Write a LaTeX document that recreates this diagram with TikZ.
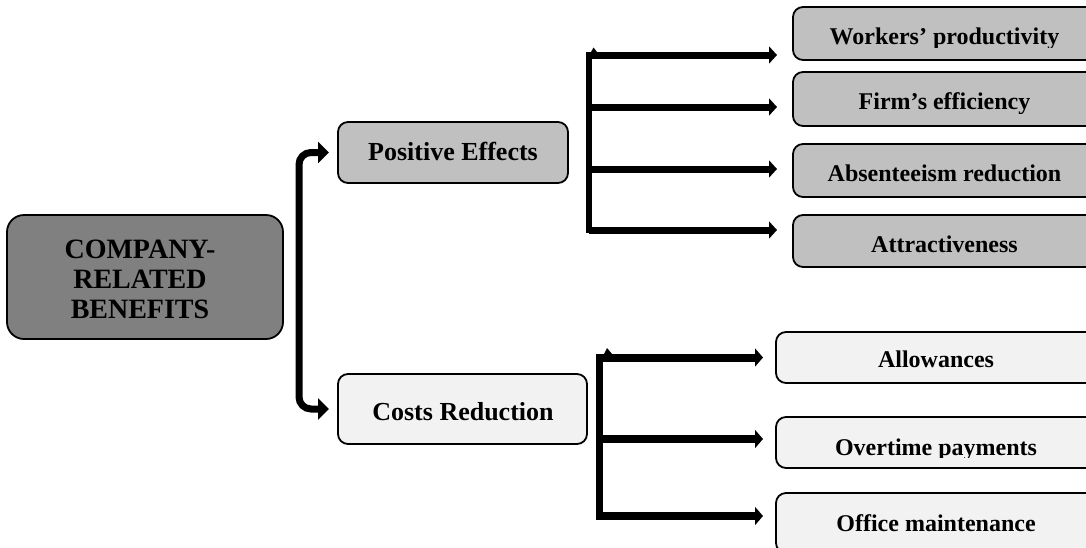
\documentclass[tikz,border=0pt]{standalone}
\usepackage{fontspec}
\setmainfont{Liberation Serif}
\usetikzlibrary{arrows.meta}
\definecolor{darkbox}{RGB}{128,128,128}
\definecolor{midbox}{RGB}{192,192,192}
\definecolor{lightbox}{RGB}{242,242,242}
\begin{document}
\begin{tikzpicture}[x=1pt,y=-1pt,
  box/.style={draw=black, line width=1.8pt, rounded corners=10pt, inner sep=0pt, outer sep=0pt},
  mainbox/.style={box, fill=darkbox, rounded corners=17pt},
  posbox/.style={box, fill=midbox},
  costbox/.style={box, fill=lightbox},
  maintext/.style={inner sep=0pt, align=center, font=\bfseries\fontsize{28}{30}\selectfont},
  midtext/.style={inner sep=0pt, anchor=base, font=\bfseries\fontsize{26}{28}\selectfont},
  itemtext/.style={inner sep=0pt, anchor=base, font=\bfseries\fontsize{24}{26}\selectfont},
  bigarrow/.style={line width=7pt, rounded corners=12pt, -{Triangle[width=21pt,length=11pt]}},
  uparrow/.style={line width=7pt, -{Triangle[width=17pt,length=8pt]}},
  lowarrow/.style={line width=8pt, -{Triangle[width=18pt,length=8pt]}},
  trunk/.style={line cap=rect}
]
\useasboundingbox (0,0) rectangle (1086,547);
\clip (0,0) rectangle (1086,547);

% boxes
\node[mainbox, minimum width=276pt, minimum height=124pt] (main) at (145,277) {};
\node[posbox, minimum width=230pt, minimum height=61pt] (pe) at (453,152.5) {};
\node[costbox, minimum width=249pt, minimum height=70pt] (cr) at (462.5,409) {};

\node[posbox, minimum width=303pt, minimum height=53pt] (w) at (944.5,33.5) {};
\node[posbox, minimum width=303pt, minimum height=54pt] (f) at (944.5,99) {};
\node[posbox, minimum width=303pt, minimum height=53pt] (ab) at (944.5,170.5) {};
\node[posbox, minimum width=303pt, minimum height=52pt] (at) at (944.5,241) {};

\node[costbox, minimum width=320pt, minimum height=51pt] (al) at (936,357.5) {};
\node[costbox, minimum width=320pt, minimum height=51pt] (ot) at (936,442.5) {};
\node[costbox, minimum width=320pt, minimum height=60pt] (of) at (936,523) {};

% labels
\node[maintext] (maint) at (140,279.75) {COMPANY-\\RELATED\\BENEFITS};
\node[midtext] (pet) at (453,160.7) {Positive Effects};
\node[midtext] (crt) at (463,420) {Costs Reduction};

\begin{scope}
  \clip (793,0) rectangle (1096,47);
  \node[itemtext] (wt) at (944.5,44.3) {Workers’ productivity};
\end{scope}
\begin{scope}
  \clip (793,72) rectangle (1096,113);
  \node[itemtext] (ft) at (944.5,109) {Firm’s efficiency};
\end{scope}
\node[itemtext] (abt) at (944.5,181) {Absenteeism reduction};
\node[itemtext] (att) at (944.5,252) {Attractiveness};

\node[itemtext] (alt) at (936,367.6) {Allowances};
\begin{scope}
  \clip (776,417) rectangle (1096,457);
  \node[itemtext] (ott) at (936,455) {Overtime payments};
\end{scope}
\node[itemtext] (oft) at (936,531) {Office maintenance};

% bracket from the main box to the two groups
\coordinate (lt) at (299,281);
\draw[bigarrow] (lt) |- ([xshift=-9pt]pe.west);
\draw[bigarrow] (lt) |- ([xshift=-9pt]cr.west);

% positive effects branches
\coordinate (ux) at (588.5,0);
\coordinate (a1) at ([xshift=-16pt,yshift=-21.5pt]w.west);
\coordinate (a2) at ([xshift=-16pt,yshift=-8pt]f.west);
\coordinate (a3) at ([xshift=-16pt,yshift=1.5pt]ab.west);
\coordinate (a4) at ([xshift=-16pt,yshift=11pt]at.west);
\draw[line width=6pt, trunk] (a1 -| ux) -- (a4 -| ux);
\foreach \t in {a1,a2,a3,a4}
  \draw[uparrow] (\t -| ux) -- (\t);
\fill (591,52) -- (593.5,47.5) -- (597,52) -- cycle;

% cost reduction branches
\coordinate (lx) at (599.5,0);
\coordinate (b1) at ([xshift=-13pt]al.west);
\coordinate (b2) at ([xshift=-13pt,yshift=3.5pt]ot.west);
\coordinate (b3) at ([xshift=-13pt,yshift=7pt]of.west);
\draw[line width=7pt, trunk] (b1 -| lx) -- (b3 -| lx);
\foreach \t in {b1,b2,b3}
  \draw[lowarrow] (\t -| lx) -- (\t);
\fill (604,354) -- (607,348) -- (612,354) -- cycle;
\end{tikzpicture}
\end{document}
